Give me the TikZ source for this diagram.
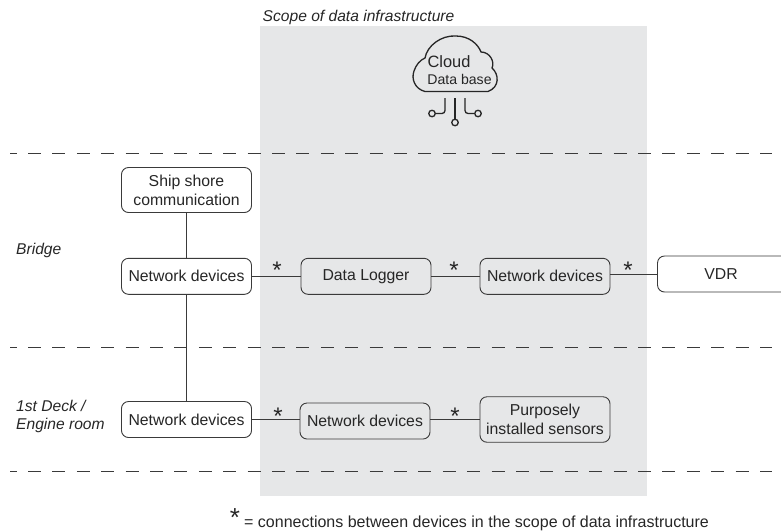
\documentclass[tikz,border=0pt]{standalone}
\usepackage{fontspec}
\setmainfont{Liberation Sans}
\definecolor{scopegrey}{HTML}{E6E7E8}
\definecolor{linegrey}{HTML}{3A3A3A}
\tikzset{
  x=1pt,y=-1pt,
  box/.style={draw=linegrey,line width=0.9pt,rounded corners=7pt,minimum height=36pt,minimum width=130pt,inner sep=0pt,align=center,font=\fontsize{15.8}{19}\selectfont,text=black!85},
  conn/.style={draw=linegrey,line width=0.9pt},
  icon/.style={draw=black!85,line width=1.3pt,line join=round},
  sep/.style={draw=linegrey,line width=0.7pt,dash pattern=on 13pt off 11.4pt,dash phase=6.4pt},
  lab/.style={font=\fontsize{15.6}{18}\selectfont\itshape,align=left,anchor=west,inner sep=0pt,text=black!85},
  star/.style={font=\fontsize{24}{24}\selectfont,inner sep=0pt,text=black!85},
  dot/.style={draw=black!85,line width=1.3pt,circle,minimum size=6.5pt,inner sep=0pt},
}
\begin{document}
\begin{tikzpicture}
\useasboundingbox (0,0) rectangle (781,531);
\fill[scopegrey] (260,26) rectangle (647,496);
\foreach \y in {153.5,347.5,471} \draw[sep] (10,\y) -- (771.5,\y);
\node[lab] (scope) at (262.5,17) {Scope of data infrastructure};
\node[lab] (bridge) at (16,250) {Bridge};
\node[lab] (deck) at (16,416) {1st Deck /\\Engine room};
% cloud
\draw[icon] (425,91.5)
  .. controls (415,89) and (411,79) .. (414,71)
  .. controls (416,65) and (420,60) .. (425,58)
  .. controls (427,46) and (441,35) .. (456,36)
  .. controls (469,36) and (478,44) .. (481,52)
  .. controls (490,52) and (495,62) .. (492,68)
  .. controls (499,74) and (500,87) .. (488,91.5)
  -- cycle;
\node[font=\fontsize{16.4}{17}\selectfont,inner sep=0pt,text=black!85] (cloud) at (449,62) {Cloud};
\node[font=\fontsize{14.1}{15}\selectfont,inner sep=0pt,text=black!85] (dbase) at (459.5,79) {Data base};
\coordinate (c1) at (445,98);
\coordinate (c2) at (455,98);
\coordinate (c3) at (465,98);
\node[dot] (d1) at (432,113.5) {};
\node[dot] (d2) at (455,122.5) {};
\node[dot] (d3) at (478,113.5) {};
\draw[icon,rounded corners=3pt] (c1) -- (445,113.5) -- (d1);
\draw[icon] (c2) -- (d2);
\draw[icon,rounded corners=3pt] (c3) -- (465,113.5) -- (d3);
% boxes
\node[box,minimum height=45pt] (ship) at (186.5,190) {Ship shore\\communication};
\node[box] (nb) at (186.5,276.3) {Network devices};
\node[box] (dl) at (366,276.3) {Data Logger};
\node[box] (nb2) at (545,276.3) {Network devices};
\draw[conn,rounded corners=7pt] (781,256) -- (657.5,256) -- (657.5,292) -- (781,292);
\coordinate (vl) at (657.5,274);
\node[font=\fontsize{15.8}{19}\selectfont,inner sep=0pt,text=black!85] (vdr) at (721,274) {VDR};
\node[box] (ne) at (186.5,419.5) {Network devices};
\node[box] (ne2) at (365,421) {Network devices};
\node[box,minimum height=45.5pt] (ps) at (545,419.5) {Purposely\\installed sensors};
% connectors
\draw[conn] (ship) -- (nb);
\draw[conn] (nb) -- (ne);
\draw[conn] (nb) -- (dl);
\draw[conn] (dl) -- (nb2);
\draw[conn] (nb2.east |- vl) -- (vl);
\draw[conn] (ne.east) -- (ne2.west |- ne.east);
\draw[conn] (ne2.east |- ps.east) -- (ps.west);
% stars
\node[star] (s1) at (277,270) {*};
\node[star] (s2) at (454,270) {*};
\node[star] (s3) at (628,270) {*};
\node[star] (s4) at (278,416) {*};
\node[star] (s5) at (455,416) {*};
\node[font=\fontsize{26}{26}\selectfont,inner sep=0pt,text=black!85] (s6) at (235,518) {*};
\node[font=\fontsize{16}{18}\selectfont,anchor=west,inner sep=0pt,text=black!85] (note) at (244,523) {= connections between devices in the scope of data infrastructure};
\end{tikzpicture}
\end{document}
